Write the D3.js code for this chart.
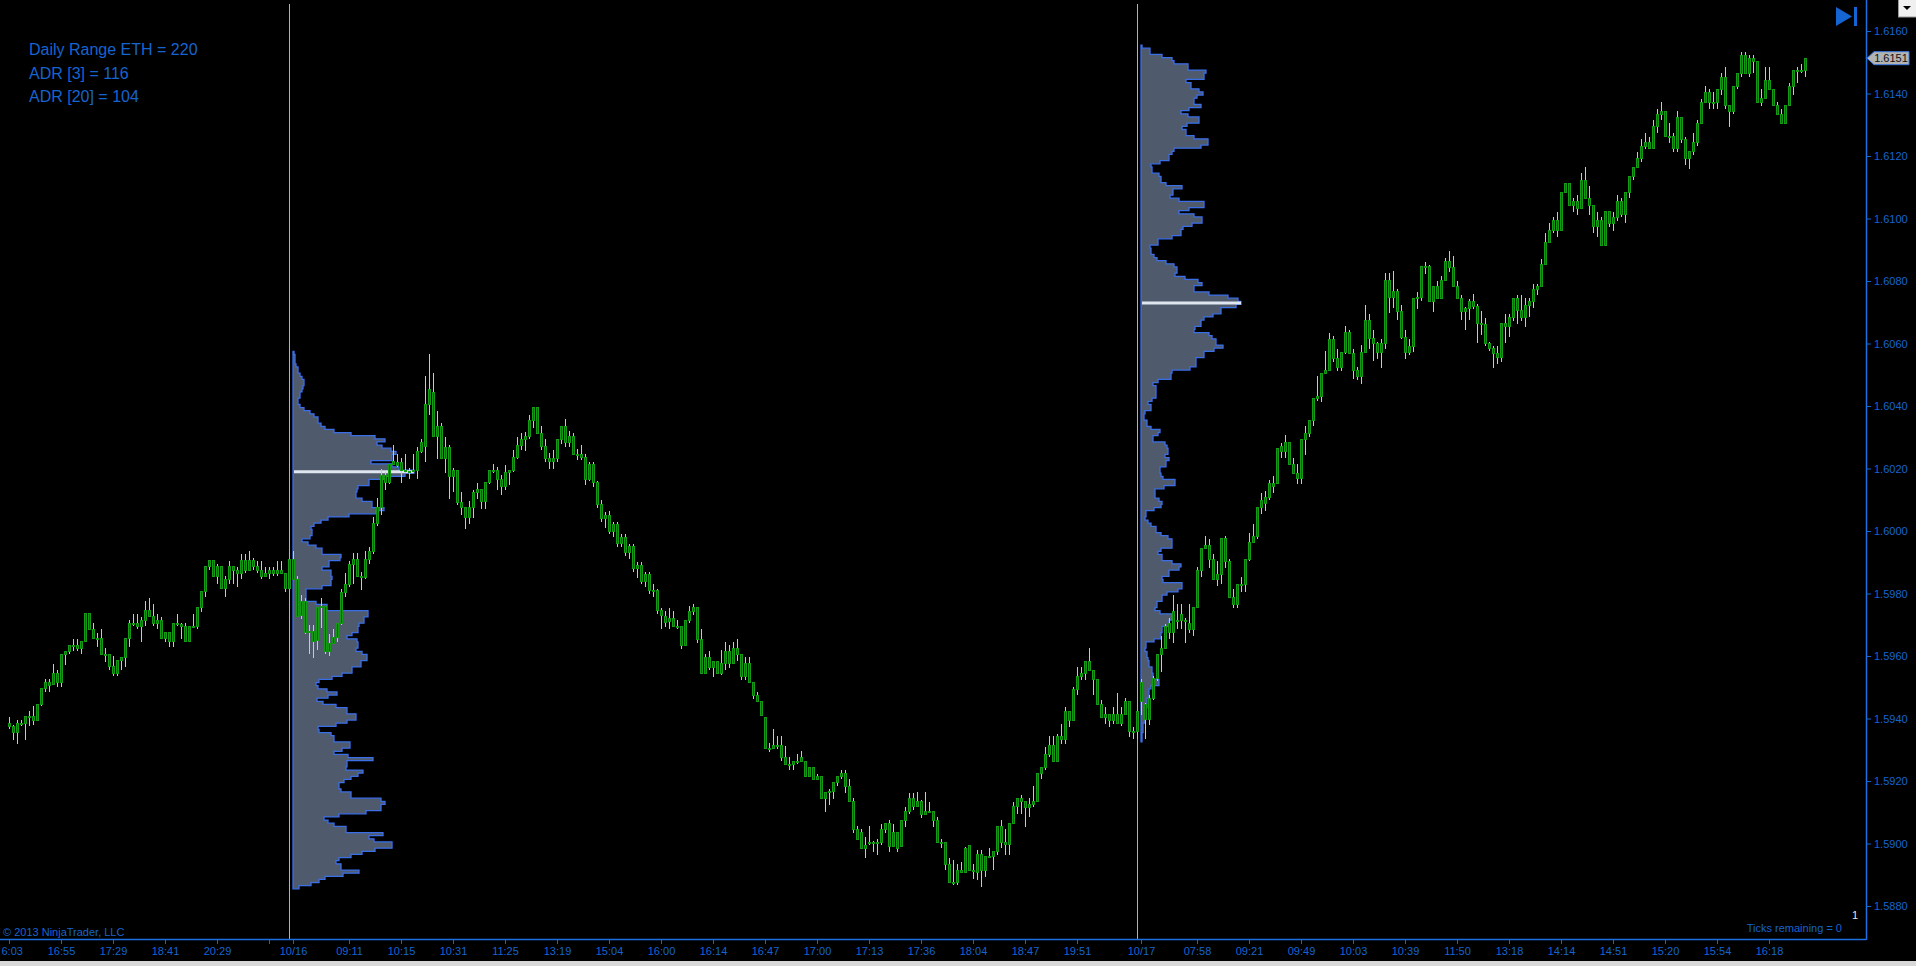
<!DOCTYPE html>
<html>
<head>
<meta charset="utf-8">
<script src="https://cdnjs.cloudflare.com/ajax/libs/d3/7.8.5/d3.min.js"></script>
<style>
html, body { margin: 0; padding: 0; background: #000; overflow: hidden; }
text { font-family: "Liberation Sans", Arial, sans-serif; }
</style>
</head>
<body>
<div id="chart"></div>
<script>
// prices are in pips above 1.5800 (1 pip = 0.0001)
var base = 1.58;

// [open, high, low, close] per bar
var ohlc = [
[137.5,140.5,136.5,138.5],[137.5,138,133,135.5],[135.5,139.5,132,138.5],[138.5,139.5,137.5,138.5],[138.5,140.5,133,140.5],
[140.5,142.5,137.5,140.5],[140.5,144,138,139.5],[139.5,144.5,139.5,144.5],[144.5,149.5,144,149.5],[149.5,152.5,148.5,151.5],
[151.5,152.5,148.5,150.5],[151,157.5,151,154.5],[154.5,155.5,150,151.5],[151.5,160.5,150,160.5],[160.5,161.5,157,161.5],
[161.5,163.5,160.5,163.5],[163.5,165.5,161.5,163.5],[163.5,165.5,161.5,162.5],[162.5,164.5,160.5,164.5],[164.5,173.5,164.5,173.5],
[173.5,173.5,168.5,168.5],[168.5,170.5,165.5,165.5],[165.5,167.5,163,165.5],[165.5,168.5,160.5,160.5],[160.5,162.5,158,160.5],
[160.5,160.5,155.5,156.5],[156.5,160,153.5,154.5],[154.5,158.5,153.5,158.5],[158.5,159.5,155.5,159.5],[159.5,165.5,156.5,165.5],
[165.5,171.5,163,170.5],[170.5,173.5,169.5,170.5],[170.5,173.5,168.5,169.5],[169.5,172.5,164.5,171.5],[171.5,177.5,169.5,174.5],
[174.5,178.5,172.5,172.5],[172.5,176.5,169.5,170.5],[170.5,173.5,168.5,171.5],[171.5,172.5,165.5,165.5],[165.5,167.5,164.5,167.5],
[167.5,167.5,163,164.5],[164.5,170.5,163,170.5],[170.5,173.5,169.5,170],[170,170.5,165.5,169.5],[169.5,170.5,164.5,164.5],
[164.5,169.5,164.5,169.5],[169.5,173.5,169.5,169.5],[169.5,175.5,168.5,175.5],[175.5,180.5,174,180.5],[180.5,188.5,179,188.5],
[188.5,190.5,187.5,190.5],[190.5,190.5,185.5,185.5],[185.5,189.5,183,188.5],[188.5,188.5,181.5,181.5],[181.5,185.5,179,184.5],
[184.5,190.5,183,188.5],[188.5,188.5,183,187.5],[187.5,188.5,182,186.5],[186.5,192.5,184.5,190.5],[190.5,192.5,186.5,187.5],
[187.5,193.5,187.5,190.5],[190.5,191.5,187.5,188.5],[188.5,190.5,186.5,187.5],[187.5,190.5,184.5,185.5],[185.5,188.5,185.5,186.5],
[186.5,188.5,184.5,187.5],[187.5,188.5,185.5,186.5],[186.5,190.5,185.5,187.5],[187.5,190.5,186.5,186.5],[186.5,186.5,180.5,181.5],
[181.5,191,181.5,191],[191,193.5,184.5,184.5],[184.5,185.5,172.5,172.5],[173,179.5,172,177.5],[177.5,178.5,167,167.5],
[167.5,170,160.5,168],[168,170,159.5,164.5],[165,175.5,162,175.5],[175.5,178.5,169,176],[176,176,160.5,161.5],
[161.5,167,160,164],[164,168.5,164,166],[166,170.5,164.5,170.5],[170.5,181.5,170,180.3],[180.3,186.5,179,183],
[183,190.5,182,189.3],[189.3,193,183,191],[191,193,185.5,185.5],[185.5,187,181,185],[185,193.5,184.5,191],
[191,195,189.5,193.5],[193.5,204.5,192.5,202.5],[202.5,210.6,201.5,207.4],[207.4,220,205,217.7],[217.7,218.8,213,215.4],
[215.4,221.3,215,221.3],[221.3,227.4,221,222.2],[221,224.5,220.5,222],[222,223.4,215.4,219.5],[219.5,224.5,218.5,219.5],
[219,220.3,216.5,219],[219,224.5,218.5,219.5],[219.5,227,216.5,225.5],[225.5,229.5,225,228.2],[227,249.5,222.2,240.5],
[240.5,256.5,237,245.3],[244.3,250.5,230.2,230.2],[230.2,238.4,223,233.5],[233.5,234.5,223.2,223.2],[223.2,230.2,218.5,226.6],
[226.6,227.4,210.2,217.5],[217.5,220.3,212.6,219.4],[219.4,219.4,208.2,209.1],[209.1,212.6,205.1,207.4],[207.4,207.4,200.5,204.3],
[204.3,209.7,202.2,207.4],[207.4,213.1,204.3,212.3],[212.3,215.4,210.2,213.3],[213.3,213.3,207,209.5],[209.5,215.4,207,215.4],
[215.4,219.4,215,219.4],[219.4,221.5,218.6,219.4],[219.4,220.5,213.1,216.5],[216.5,218,211.5,214.2],[214.2,221.1,213,218.6],
[218.6,219.4,214.8,219.4],[219.4,226,219,223.4],[223.4,230.2,223,227.4],[227.4,231.4,226,229.3],[229.3,231.8,225.5,230.2],
[230.2,237.2,229.3,235.4],[235.4,239.4,233.1,239.4],[239.4,239.4,231.2,231.2],[231.2,233.5,226,227.2],[227.2,229.4,222,223.2],
[223.2,225,220,222.2],[222.2,226,220,223.2],[223.2,229.3,222,229.3],[229.3,233.4,228,233.4],[233.4,236,227,228.3],
[228.3,232,227,230.2],[230.2,231.4,224.5,224.5],[224.5,226.2,222.8,224.5],[224.5,227.4,222.8,223.4],[223.4,224.5,214.8,216.5],
[216.5,222.2,216,221.3],[221.3,222,214,215.4],[215.4,216,207.5,208.5],[208.5,210,203,204],[204,206,201,205],
[205,206.5,199,200],[200,203,198,202],[202,203,195,196],[196,199,195,198],[198,199,192,193],
[193,196,191,195],[195,196,187,188],[188,190,185,189],[189,190,183,184],[184,187,182,186],
[186,187,180,181],[181,183,179,181.1],[181.1,181.5,173.5,174.5],[174.5,175.5,168.5,173],[172.5,174.3,169.3,170.8],
[171,175.5,168.5,172],[172,174.3,169.5,169.5],[169.5,171.5,168.5,169.5],[169.5,169.5,162.4,163.5],[163.5,171.3,163.5,171.3],
[171.3,176,170.5,174.2],[174.2,176.6,173.1,175.6],[175.6,175.6,164.3,165.3],[165.3,168.5,154.5,154.5],[154.5,160.5,154.5,159.5],
[159.5,161.5,155.5,156.4],[156.4,158.4,153.3,158.4],[158.4,158.4,154.5,154.5],[154.5,162,154,157.5],[157.5,164.5,155.5,161.6],
[161.6,163.5,156.3,157.5],[157.5,164.5,157.5,162.5],[162.5,165.3,158.4,160.6],[160.6,160.6,152.4,153.4],[153.4,159.6,152.4,157.5],
[157.5,159.6,151.5,151.5],[151.5,151.5,146.3,147.3],[147.3,148.4,145.4,145.4],[145.4,145.4,141.1,141.1],[140.4,140.4,130.4,130.4],
[130.4,132.3,129.3,130.4],[130.4,136.6,130.4,131.5],[131.5,134.4,130.4,131.5],[131.5,134.4,126.3,127.6],[127.6,131.3,125.4,125.4],
[125.4,127.6,123.5,125.4],[125.4,126.2,123.5,126.2],[126.2,128.6,125.4,126.2],[127.5,129.5,126.2,126.2],[126.2,126.2,121.6,121.6],
[121.6,124.4,121.6,124.4],[124.4,124.4,120.5,120.5],[120.5,122.4,120.5,121.3],[121.3,121.6,114.5,114.5],[114.5,116.4,110.2,116.4],
[116.4,117.3,112.3,116.6],[116.6,119.6,114.3,119.6],[119.6,121.4,118.4,121.4],[121.4,123.5,120.5,122.4],[122.4,123.5,116.3,118.2],
[118.2,120.5,113.4,113.4],[113.4,114.5,103.5,104.5],[104.5,105.5,101.3,101.3],[103.5,104.5,98.5,98.5],[98.5,102.2,95.5,99.5],
[100,105.5,99.5,100.3],[100.3,100.8,97.4,100.3],[100.3,101.3,96.3,100.3],[100.3,106.4,99.5,104.5],[104.5,106.4,103.4,106.4],
[106.4,107.4,97.4,99.2],[99.2,106.4,99.2,103.5],[103.5,103.5,97.4,98.5],[99,107.5,99,107.5],[107.5,111.8,105.4,110.2],
[110.2,116.1,109.6,114.5],[114.5,116.1,110.7,111.8],[111.8,116.4,111.8,113.4],[113.4,113.9,108.3,109.4],[109.4,116.4,109.4,110.2],
[110.2,113.4,110.2,110.2],[110.2,110.2,105.4,107.5],[107.5,108.5,100.3,100.3],[100.3,101.3,98.5,100.3],[100.3,100.3,91.5,93.4],
[93.4,95.5,87.5,87.5],[87.5,94.7,86.7,87.5],[87.5,93.4,86.7,91.3],[91.3,94.2,90.6,90.6],[90.6,99,90.6,98.4],
[99.5,99.5,91.3,91.3],[91.3,93.4,88.7,91],[90.6,97.9,88.3,96.6],[96.6,97.9,86.2,91.3],[91.3,95.8,89.4,95.8],
[95.8,98.5,95.8,95.8],[95.8,97.4,91.5,97.4],[97.4,105.6,96.3,105.6],[105.6,107.5,98.5,100.3],[100.3,104.5,96.3,99.6],
[99.6,106.4,96.3,106.4],[106.4,113.4,106.4,111.8],[111.8,114.5,109.6,114.5],[114.5,115.6,109.6,113.4],[113.4,113.4,105.4,111.6],
[111.6,114.5,108.6,112.6],[112.6,118.4,111.6,113.4],[113.4,122.4,113.4,122.4],[122.4,124.4,120.5,124.4],[124.4,130.9,123.5,128.6],
[128.6,134.4,127.8,131.5],[131.5,134.4,126.2,126.2],[126.2,135.2,126.2,134.2],[134.2,138.4,132,133.3],[133.3,143.8,132,142.2],
[142.2,142.2,137.4,139.5],[139.5,150.2,139.5,149.3],[149.3,156.6,147.5,153.4],[153.4,156.6,152.3,154.4],[154.4,158.4,152.3,158.4],
[158.4,162.7,155.3,155.3],[155.3,155.5,147.5,152.5],[152.5,152.5,144.6,144.6],[144.6,145.9,140.4,140.4],[140.4,143.8,138.4,141.4],
[141.4,141.4,137.4,139.5],[139.5,143.8,138.4,141.4],[141.4,148.1,138.4,138.4],[138.4,143.8,137.6,141.4],[141.4,146.5,141.4,145.4],
[145.4,145.4,134.2,135.8],[135.8,137.4,133.3,135.8],[135.8,142.2,133.3,142.2],[145.4,152.6,141,151.4],[144.5,145,133.3,139.6],
[139.6,147.5,138,146.5],[146.5,153.5,146,152.9],[152.9,160.6,152,160.6],[160.6,166.4,154.8,162.5],[162.5,170.3,162.5,169.3],
[170.3,172.2,165.6,167.4],[167.4,179.4,164.2,174.1],[171.4,176.5,168.5,171.4],[173.2,176.5,168.5,171.4],[171.4,172.2,164.2,171.1],
[170.3,176.5,167.4,168.5],[168.5,175.5,166.4,175.5],[175.5,188.5,175.5,187.4],[187.4,194.3,185.2,194.3],[194.3,198.3,194.3,195.4],
[195.4,197.5,188.1,191],[191,192.5,184.5,184.5],[184.5,190.3,182.3,186.2],[186.2,197.5,183,197.5],[197.5,198.3,188.1,190.3],
[190.3,191,178.7,178.7],[178.7,181.3,175.5,176.5],[176.5,183,175.5,183],[183,185.2,180.4,183],[183,191,180.4,191],
[191,199.3,190.3,196.4],[196.4,202.2,196.4,198.3],[198.3,207.4,197.5,207.4],[207.4,212.3,205.5,209.8],[208.8,212.7,206.5,210.6],
[210.6,216.4,209.9,215.2],[214.2,217.5,212.3,215.2],[215.2,226.5,214.9,226.5],[227.2,228.2,223.3,225.4],[225.4,230.6,223.3,228.2],
[228.2,228.2,221.4,221.4],[221.4,223.3,218.1,218.5],[218.5,221.4,215.2,216.7],[216.7,229.4,215.2,229.4],[229.4,233.5,224.3,231.1],
[231.1,235.5,230.1,235.5],[235.5,242.5,233.5,242.5],[242.5,249.7,241.7,243.2],[243.2,250.4,241.3,250.4],[250.4,257.7,250.4,251.4],
[251.4,263.5,251.1,261.3],[261.3,262.5,254.1,255.2],[255.2,258.4,251.1,252.3],[252.3,257.2,251.1,257.2],[257.2,265.6,256.5,263.5],
[263.5,264.2,256.7,256.7],[256.7,258.4,248.5,251.4],[251.4,252.6,248.3,249.4],[249.4,259.6,247.1,257.2],[257.2,272.2,257.2,267.4],
[267.4,269.3,258.4,261.6],[261.6,264.2,254.4,260.1],[260.1,260.5,255.2,257.2],[257.2,261.3,252.3,260.1],[260.1,282.7,258.4,280.1],
[280.1,282.7,269.7,274.6],[274.6,283.3,271.4,276.5],[276.5,277.5,267.4,270.3],[270.3,272.2,261.6,262],[262,264.2,255.2,257.2],
[257.2,261.3,256.2,259.1],[259.1,274.3,257.2,274.3],[274.3,276.5,271.2,274.6],[274.6,284.5,273.6,284.5],[284.5,286.2,282.3,284.5],
[284.5,285,273.6,273.6],[273.6,278.4,270,278.4],[278.4,280.1,274.3,274.3],[274.3,281.6,274.3,280.1],[280.1,287.4,280.1,286.2],
[286.2,289.6,283,284.2],[284.2,288.1,278.4,278.4],[278.4,280.1,274.3,274.3],[274.3,275.5,267.4,270.3],[270.3,271.6,264.2,271.2],
[271.2,274.3,267.4,273.3],[273.3,276,271.2,271.9],[271.9,272.5,260.1,266.4],[266.4,270.3,262.7,266.2],[266.2,268.3,259.1,260.1],
[260.1,260.5,257.7,258.4],[258.4,259.1,252.3,256.7],[256.7,259.1,253.3,255.5],[255.5,266.5,254.2,266.5],[266.5,269.5,260.3,265.6],
[265.6,269.5,262.2,268.4],[268.4,274.5,267.3,274.5],[274.5,275.5,266.4,270.5],[270.5,275.5,267.3,268.4],[268.4,274.5,265.4,272.3],
[272.3,274.5,268.4,273.4],[273.4,279.2,271.3,277.3],[277.3,279.2,275.5,278.2],[278.2,287.2,278.2,285.4],[285.4,295.3,285.4,292.4],
[292.4,298.7,292.4,296.3],[296.3,300.4,295.5,299.3],[299.3,302.2,294.2,296.3],[296.3,308.3,296.3,308.3],[308.3,311.3,308.3,311.3],
[311.3,311.3,304.1,304.1],[304.1,306.5,302.2,305.4],[305.4,307.5,301.1,303.3],[303.3,314.5,303.3,312.3],[312.3,316.6,306.5,306.5],
[306.5,310.4,301.1,304.3],[304.3,304.3,295.3,297.6],[297.6,302.2,294.2,299.3],[299.3,300.6,291.5,291.5],[291.5,302.2,291.5,302.2],
[302.2,302.2,297.4,298.5],[298.5,302.2,296.1,300.4],[300.4,307.5,299.3,305.4],[305.4,306.5,300.4,301.3],[301.3,308.3,298.5,308.3],
[308.3,313.4,306.5,313.4],[313.4,316.4,312.3,316.4],[316.4,321.4,316.4,319.3],[319.3,325.3,318.2,323.2],[323.2,327.3,322.4,324.3],
[324.3,326.2,322.4,322.4],[322.4,331.5,322.4,329.4],[329.4,335.2,327.3,333.4],[333.4,337.2,331.5,334.4],[334.4,334.4,326.2,326.2],
[326.2,330.5,324.3,326.2],[326.2,327.3,321.4,322.4],[322.4,334.4,321.4,332.4],[332.4,332.4,324.3,325.3],[325.3,326.2,317.1,319.3],
[319.3,321.4,316,321.4],[321.4,327.3,320.4,324.3],[324.3,331.5,323.2,330.5],[330.5,338.4,330.5,337.2],[337.2,342.4,337.2,340.4],
[340.4,341.3,335.2,337.2],[337.2,340.4,335.2,337.2],[337.2,341.3,335.2,341.3],[341.3,346.7,339.5,345.2],[345.2,348.4,335.2,336.3],
[336.3,336.3,329.4,334.4],[334.4,342.4,333.4,342.4],[342.4,346.5,341.3,346.5],[346.5,353.3,345.4,352.3],[352.3,353.3,346.5,346.5],
[346.5,352.3,345.2,351.3],[351.3,352.3,346.5,350.2],[350.2,350.2,337.2,337.2],[337.2,341.3,336.1,338.4],[338.4,348.4,338.4,344.3],
[344.3,348.4,341.3,341.3],[341.3,341.3,336.1,336.1],[336.1,337.2,333.4,333.4],[333.4,335.2,330.5,330.5],[330.5,336.1,330.5,336.1],
[336.1,343.3,336.1,342.4],[342.4,347.3,339.5,347.3],[347.3,348.4,343.3,347.3],[347.3,349.4,346.5,347.3],[347.3,351.3,345.2,351.3]
];

// time axis: bar index of each labelled tick and its text
// (the first label is cut by the window edge in the original, only "6:03" shows)
var tickIdx = [0,13,26,39,52,65,71,85,98,111,124,137,150,163,176,189,202,215,228,241,254,267,283,297,310,323,336,349,362,375,388,401,414,427,440];
var tickLabels = ["6:03","16:55","17:29","18:41","20:29","","10/16","09:11","10:15","10:31","11:25","13:19","15:04","16:00","16:14","16:47","17:00","17:13","17:36","18:04","18:47","19:51","10/17","07:58","09:21","09:49","10:03","10:39","11:50","13:18","14:14","14:51","15:20","15:54","16:18"];

// price axis ticks (pips above 1.5800)
var priceTicks = [80,100,120,140,160,180,200,220,240,260,280,300,320,340,360];

// first bar of each new session
var sessionStart = [71, 283];

// volume profiles: volume per 1-pip row, from the top price down
var profile1Top = 257;
var profile1Vol = [1,2,2,2,3,5,5,7,9,11,11,10,9,7,7,5,5,7,11,17,21,25,25,28,32,41,58,82,92,84,89,98,103,99,99,78,99,106,121,112,
91,76,76,65,64,63,63,69,79,79,91,83,56,35,28,21,18,19,19,17,9,15,23,29,29,48,47,36,36,29,38,38,39,38,38,29,13,13,13,13,
23,34,34,75,75,71,71,66,65,65,59,54,64,65,65,63,69,74,74,68,68,59,59,49,39,26,23,25,34,44,35,24,30,43,54,54,63,63,54,43,
25,26,38,41,41,57,57,49,41,55,80,54,54,53,70,65,58,51,46,46,48,58,58,88,92,88,88,73,46,31,35,41,53,53,90,76,81,99,99,82,
69,58,46,43,48,48,66,50,32,26,18,6];
var profile2Top = 355;
var profile2Vol = [1,9,9,21,31,33,47,47,65,63,63,45,50,50,58,62,56,53,53,60,48,40,47,58,58,46,41,45,45,53,67,67,60,33,31,28,28,19,10,11,
11,18,20,20,25,41,32,32,29,38,63,63,48,38,53,61,61,51,42,40,40,31,17,17,9,10,10,13,16,25,33,36,36,34,44,57,61,53,53,68,
87,97,100,95,80,80,72,63,60,60,54,53,68,71,75,75,82,73,63,63,55,55,55,49,31,30,30,17,12,15,15,15,15,11,7,10,10,4,3,3,
6,6,10,19,17,12,12,24,26,27,27,24,28,25,25,19,19,20,22,34,34,23,14,14,14,18,21,20,13,5,5,4,7,10,15,15,20,27,31,31,
31,20,17,21,21,31,40,38,28,28,21,22,41,41,37,26,21,21,16,16,14,19,31,31,28,28,21,21,20,20,13,5,5,4,6,6,7,8,8,11,
11,12,12,18,18,10,8,8,8,6,6,6,5,5,4,4,4,2,2,2,1,1,1];

var infoLines = ["Daily Range ETH = 220", "ADR [3] = 116", "ADR [20] = 104"];

var svgWidth = 1916;
var svgHeight = 966;
var axisX = 1866;   // price axis line
var axisY = 939;    // time axis line

var blue = "#1664d0";

var svg = d3.select("#chart")
    .append("svg")
    .attr("width", svgWidth)
    .attr("height", svgHeight)
    .style("display", "block");

svg.append("rect")
    .attr("width", svgWidth)
    .attr("height", svgHeight)
    .attr("fill", "#000");

// scales
var xScale = d3.scaleLinear()
    .domain([0, ohlc.length - 1])
    .range([9, 1805]);

var yScale = d3.scaleLinear()
    .domain([80, 360])
    .range([906, 31]);

var volScale = d3.scaleLinear()
    .domain([0, 100])
    .range([0, 100]);

var chartGroup = svg.append("g");

// volume profiles
function drawProfile(top, vols, startIdx) {
    var left = xScale(startIdx);
    var pts = [[left, yScale(top + 0.5)]];
    vols.forEach(function (v, i) {
        var p = top - i;
        pts.push([left + volScale(v), yScale(p + 0.5)]);
        pts.push([left + volScale(v), yScale(p - 0.5)]);
    });
    pts.push([left, yScale(top - vols.length + 0.5)]);

    chartGroup.append("path")
        .attr("d", d3.line()(pts) + "Z")
        .attr("fill", "#4f5a6c")
        .attr("stroke", "#3b6fe8")
        .attr("stroke-width", 1.3)
        .attr("stroke-linejoin", "miter");

    // point of control
    var maxV = d3.max(vols);
    var pocP = top - vols.indexOf(maxV);
    chartGroup.append("line")
        .attr("x1", left + 1)
        .attr("x2", left + volScale(maxV))
        .attr("y1", yScale(pocP))
        .attr("y2", yScale(pocP))
        .attr("stroke", "#dfe6ef")
        .attr("stroke-width", 3);
}
drawProfile(profile1Top, profile1Vol, sessionStart[0]);
drawProfile(profile2Top, profile2Vol, sessionStart[1]);

// session break lines
chartGroup.selectAll(".session")
    .data(sessionStart)
    .enter()
    .append("line")
    .attr("x1", d => xScale(d - 1) + 0.5)
    .attr("x2", d => xScale(d - 1) + 0.5)
    .attr("y1", 4)
    .attr("y2", axisY)
    .attr("stroke", "#f2a25e")
    .attr("stroke-width", 1);

// candles
var candles = chartGroup.selectAll(".candle")
    .data(ohlc)
    .enter()
    .append("g")
    .attr("shape-rendering", "crispEdges");

candles.append("line")
    .attr("x1", (d, i) => xScale(i) + 0.5)
    .attr("x2", (d, i) => xScale(i) + 0.5)
    .attr("y1", d => yScale(d[1]))
    .attr("y2", d => yScale(d[2]))
    .attr("stroke", "#c9c9c9")
    .attr("stroke-width", 1);

candles.append("rect")
    .attr("x", (d, i) => xScale(i) - 0.5)
    .attr("width", 2)
    .attr("y", d => yScale(Math.max(d[0], d[3])))
    .attr("height", d => Math.max(1, Math.abs(yScale(d[0]) - yScale(d[3]))))
    .attr("fill", d => d[3] >= d[0] ? "#0b650b" : "#c00000")
    .attr("stroke", "#149a14")
    .attr("stroke-width", 1);

// price axis
var rightAxis = d3.axisRight(yScale)
    .tickValues(priceTicks)
    .tickSize(5)
    .tickFormat(p => (base + p / 10000).toFixed(4));

svg.append("g")
    .attr("transform", `translate(${axisX}, 0)`)
    .call(rightAxis)
    .call(g => g.select(".domain").remove())
    .call(g => g.selectAll("line").attr("stroke", blue))
    .call(g => g.selectAll("text")
        .attr("fill", blue)
        .attr("font-size", 11)
        .style("font-family", "'Liberation Sans', Arial, sans-serif"));

// time axis
var bottomAxis = d3.axisBottom(xScale)
    .tickValues(tickIdx)
    .tickSize(5)
    .tickFormat((d, i) => tickLabels[i]);

svg.append("g")
    .attr("transform", `translate(0, ${axisY})`)
    .call(bottomAxis)
    .call(g => g.select(".domain").remove())
    .call(g => g.selectAll("line").attr("stroke", blue))
    .call(g => g.selectAll("text")
        .attr("fill", blue)
        .attr("font-size", 11)
        .style("font-family", "'Liberation Sans', Arial, sans-serif"))
    // the first label sits against the left edge
    .call(g => g.selectAll(".tick text")
        .filter((d, i) => i === 0)
        .attr("text-anchor", "start")
        .attr("x", -8));

svg.append("line")
    .attr("x1", 0).attr("x2", axisX)
    .attr("y1", axisY + 0.5).attr("y2", axisY + 0.5)
    .attr("stroke", "#1f6fe0").attr("stroke-width", 1.5);

svg.append("line")
    .attr("x1", axisX + 0.5).attr("x2", axisX + 0.5)
    .attr("y1", 0).attr("y2", axisY + 1)
    .attr("stroke", "#1f6fe0").attr("stroke-width", 1.5);

// last price marker
var last = ohlc[ohlc.length - 1][3];
var yl = yScale(last);
svg.append("path")
    .attr("d", d3.line()([[axisX + 1, yl], [axisX + 8, yl - 6.5], [1909, yl - 6.5], [1909, yl + 6.5], [axisX + 8, yl + 6.5]]) + "Z")
    .attr("fill", "#b3b3b3")
    .attr("stroke", "#3a78e0")
    .attr("stroke-width", 1);
svg.append("text")
    .attr("x", 1891)
    .attr("y", yl)
    .attr("dy", "0.35em")
    .attr("text-anchor", "middle")
    .attr("font-size", 11)
    .attr("fill", "#111")
    .text((base + last / 10000).toFixed(4));

// info text
svg.selectAll(".info")
    .data(infoLines)
    .enter()
    .append("text")
    .attr("x", 29)
    .attr("y", (d, i) => 55 + i * 23.6)
    .attr("font-size", 16)
    .attr("fill", blue)
    .text(d => d);

svg.append("text")
    .attr("x", 3)
    .attr("y", 936)
    .attr("font-size", 11)
    .attr("fill", blue)
    .text("\u00a9 2013 NinjaTrader, LLC");

svg.append("text")
    .attr("x", 1842)
    .attr("y", 932)
    .attr("text-anchor", "end")
    .attr("font-size", 11)
    .attr("fill", blue)
    .text("Ticks remaining = 0");

svg.append("text")
    .attr("x", 1855)
    .attr("y", 919)
    .attr("text-anchor", "middle")
    .attr("font-size", 11)
    .attr("fill", "#e6e6e6")
    .text("1");

// "go to last bar" button
svg.append("path")
    .attr("d", "M1836,7 L1852,16.5 L1836,26 Z")
    .attr("fill", "#1464d2");
svg.append("rect")
    .attr("x", 1854).attr("y", 7)
    .attr("width", 3).attr("height", 19)
    .attr("fill", "#1464d2");

// small dropdown box top right
svg.append("rect")
    .attr("x", 1898.5).attr("y", -1)
    .attr("width", 18).attr("height", 18)
    .attr("fill", "#f0f0f0")
    .attr("stroke", "#9a9a9a");
svg.append("path")
    .attr("d", "M1903,6 L1911,6 L1907,10 Z")
    .attr("fill", "#000");

// window bottom edge
svg.append("rect")
    .attr("x", 0).attr("y", 961)
    .attr("width", svgWidth).attr("height", 5)
    .attr("fill", "#d8d8d8");
</script>
</body>
</html>
